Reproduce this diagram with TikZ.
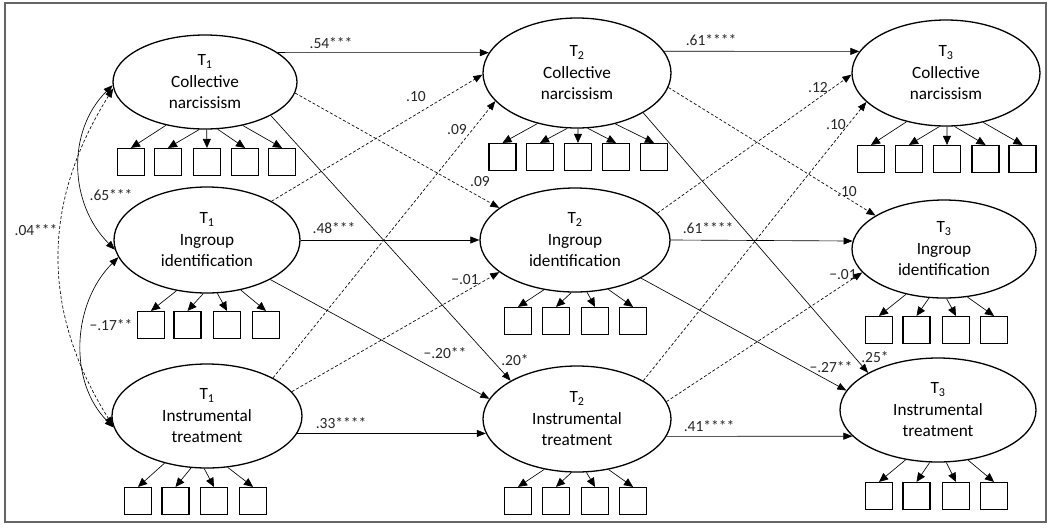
\documentclass[tikz,border=0pt]{standalone}
\usepackage{fontspec}
\setmainfont{Carlito}
\usetikzlibrary{shapes.geometric,arrows.meta}
\newcommand\indgroup[5]{%
 \foreach \i/\bx/\ox in {#5}{%
  \node[obs] (#1b\i) at (\bx,#4) {};
  \pgfmathtruncatemacro\ang{mod(atan2(-#3*sqrt(1-(\ox/#2)^2),\ox)+360,360)}
  \draw[ind] (#1.\ang) -- (#1b\i.north);
 }}
\begin{document}
\begin{tikzpicture}[x=1pt,y=-1pt,
 lat/.style={ellipse,draw,line width=1.3pt,inner sep=0pt,align=center,font=\fontsize{17.2}{21.5}\selectfont},
 obs/.style={draw,line width=1.2pt,minimum size=27pt,inner sep=0pt},
 ind/.style={line width=0.65pt,-{Triangle[length=9pt,width=8pt]}},
 pth/.style={line width=0.65pt,-{Triangle[length=9pt,width=7pt]}},
 dsh/.style={pth,dash pattern=on 3pt off 2pt},
 cov/.style={line width=0.65pt,{Triangle[length=9pt,width=7pt]}-{Triangle[length=9pt,width=7pt]}},
 lbl/.style={font=\fontsize{15.5}{15.5}\selectfont,inner sep=0pt,text=black!85}]
\useasboundingbox (0,0) rectangle (1049,531);
\draw[black!60,line width=1.2pt] (5,3) rectangle (1046,522);
% latent variables
\node[lat,minimum width=184pt,minimum height=94pt] (C1) at (205,82) {T\textsubscript{1}\\Collective\\narcissism};
\node[lat,minimum width=186pt,minimum height=106pt] (I1) at (207,240) {T\textsubscript{1}\\Ingroup\\identification};
\node[lat,minimum width=190pt,minimum height=104pt] (M1) at (207,416) {T\textsubscript{1}\\Instrumental\\treatment};
\node[lat,minimum width=188pt,minimum height=110pt] (C2) at (577,73) {T\textsubscript{2}\\Collective\\narcissism};
\node[lat,minimum width=190pt,minimum height=104pt] (I2) at (575,240) {T\textsubscript{2}\\Ingroup\\identification};
\node[lat,minimum width=188pt,minimum height=106pt] (M2) at (577,419) {T\textsubscript{2}\\Instrumental\\treatment};
\node[lat,minimum width=188pt,minimum height=106pt] (C3) at (946,73) {T\textsubscript{3}\\Collective\\narcissism};
\node[lat,minimum width=184pt,minimum height=98pt] (I3) at (944,249) {T\textsubscript{3}\\Ingroup\\identification};
\node[lat,minimum width=196pt,minimum height=104pt] (M3) at (938,410) {T\textsubscript{3}\\Instrumental\\treatment};
% indicators
\indgroup{C1}{92}{47}{162}{1/131/-38,2/168/-5,3/207/2,4/245/13,5/282/38}
\indgroup{I1}{93}{53}{325}{1/151/-30,2/187.5/-3,3/227/11,4/266/34}
\indgroup{M1}{95}{52}{501}{1/138/-41,2/175.5/-15,3/214/-2,4/253/21}
\indgroup{C2}{94}{55}{157}{1/502.5/-39,2/540/-9,3/578/1,4/616/11,5/654/38}
\indgroup{I2}{95}{52}{321}{1/518/-30,2/556/-3,3/595/12,4/633/33}
\indgroup{M2}{94}{53}{501}{1/518/-32,2/556/-5,3/595/10,4/633/32}
\indgroup{C3}{94}{53}{159}{1/871/-39,2/909/-6,3/947/1,4/985.5/9,5/1022.5/37}
\indgroup{I3}{92}{49}{330}{1/879/-37,2/916.5/-14,3/956/3,4/994/24}
\indgroup{M3}{98}{52}{496}{1/879/-31,2/916.5/-8,3/956/9,4/994/30}
% stability paths
\draw[pth] (C1.22) -- (C2.167);
\draw[pth] (C2.14) -- (C3.166);
\draw[pth] (I1.east) -- (I2.west);
\draw[pth] (I2.east) -- (I3.175);
\draw[pth] (M1.349) -- (M2.189);
\draw[pth] (M2.349) -- (M3.197);
% significant cross-lagged
\draw[pth] (C1.333) -- (M2.150);
\draw[pth] (I1.328) -- (M2.167);
\draw[pth] (C2.329) -- (M3.152);
\draw[pth] (I2.330) -- (M3.168);
% non-significant cross-lagged
\draw[dsh] (C1.353) -- (I2.157);
\draw[dsh] (I1.31) -- (C2.181);
\draw[dsh] (M1.30) -- (C2.199);
\draw[dsh] (M1.16) -- (I2.203);
\draw[dsh] (C2.351) -- (I3.154);
\draw[dsh] (I2.18) -- (C3.181);
\draw[dsh] (M2.30) -- (C3.200);
\draw[dsh] (M2.11) -- (I3.196);
% covariances
\draw[cov] (C1.182) .. controls +(-46,46) and +(-46,-46) .. (I1.186);
\draw[cov] (I1.191) .. controls +(-46,46) and +(-46,-46) .. (M1.187);
\draw[cov,dash pattern=on 3pt off 2pt] (C1.184) .. controls +(-72,115) and +(-72,-115) .. (M1.186);
% labels
\node[lbl] (l1) at (331,43) {.54***};
\node[lbl] (l2) at (711,40) {.61****};
\node[lbl] (l3) at (334,228) {.48***};
\node[lbl] (l4) at (708,228) {.61****};
\node[lbl] (l5) at (341,423) {.33****};
\node[lbl] (l6) at (709,426) {.41****};
\node[lbl] (l7) at (111,195) {.65***};
\node[lbl] (l8) at (111,325) {−.17**};
\node[lbl] (l9) at (36,230) {.04***};
\node[lbl] (l10) at (416,97) {.10};
\node[lbl] (l11) at (457,130) {.09};
\node[lbl] (l12) at (480,182) {.09};
\node[lbl] (l13) at (465,280) {−.01};
\node[lbl] (l14) at (445,353) {−.20**};
\node[lbl] (l15) at (515,360) {.20*};
\node[lbl] (l16) at (818,88) {.12};
\node[lbl] (l17) at (836,125) {.10};
\node[lbl] (l18) at (847,192) {.10};
\node[lbl] (l19) at (843,275) {−.01};
\node[lbl] (l20) at (831,367) {−.27**};
\node[lbl] (l21) at (875,357) {.25*};
\end{tikzpicture}
\end{document}
